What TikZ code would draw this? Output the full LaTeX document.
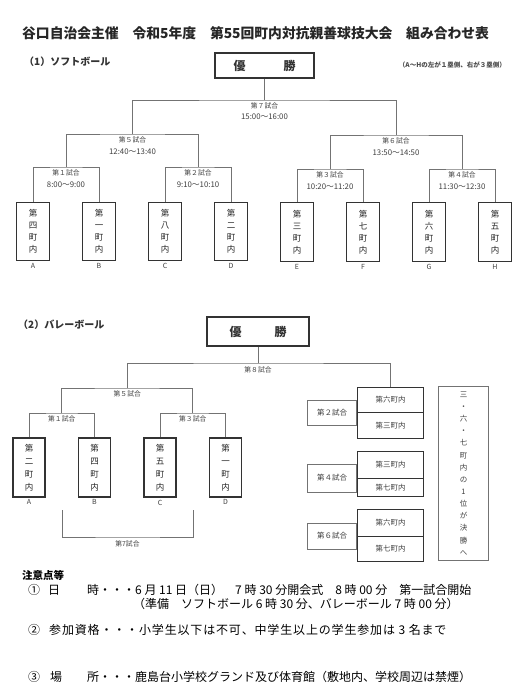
\documentclass[tikz,border=0pt]{standalone}
\usepackage{fontspec}
\setmainfont{Noto Sans CJK JP}
\begin{document}
\begin{tikzpicture}[x=1pt,y=-1pt,
  ln/.style={draw=black!55, line width=0.7pt},
  team/.style={draw=black!80, line width=1.3pt, minimum width=33pt, minimum height=58.5pt, inner sep=0pt, align=center, text=black!85, font=\fontsize{8.5}{12}\selectfont},
  vteam/.style={team, minimum width=32pt, minimum height=59pt, font=\fontsize{8.5}{13}\selectfont},
  win/.style={draw=black!80, line width=1.1pt, inner sep=0pt, text=black!80, font=\fontsize{12}{14}\selectfont\bfseries},
  lab/.style={inner sep=0pt, text=black!75, font=\fontsize{6.8}{8}\selectfont},
  tim/.style={inner sep=0pt, text=black!75, font=\fontsize{7.8}{9}\selectfont},
  letter/.style={inner sep=0pt, text=black!75, font=\fontsize{7}{8}\selectfont},
  half/.style={draw=black!80, line width=1.2pt, minimum width=66pt, inner sep=0pt, text=black!75, font=\fontsize{7.5}{9}\selectfont},
  gbox/.style={draw=black!55, line width=0.7pt, minimum width=49pt, inner sep=0pt, text=black!75, font=\fontsize{7.5}{9}\selectfont},
  note/.style={anchor=west, inner sep=0pt, text=black, font=\fontsize{12}{14}\selectfont}
]
\useasboundingbox[fill=white] (0,0) rectangle (520,699);

% ---------- title ----------
\node[anchor=west, inner sep=0pt, font=\fontsize{13.8}{16}\selectfont\bfseries, text=black!85] (title) at (22,33) {谷口自治会主催　令和5年度　第55回町内対抗親善球技大会　組み合わせ表};
\node[anchor=west, inner sep=0pt, font=\fontsize{10}{12}\selectfont\bfseries, text=black!80] (sec1) at (24,62) {（1）ソフトボール};
\node[anchor=east, inner sep=0pt, font=\fontsize{6.5}{8}\selectfont\bfseries, text=black!70] (note1) at (506,65) {（A～Hの左が１塁側、右が３塁側）};

% ---------- softball ----------
\node[win, minimum width=99pt, minimum height=25pt] (win1) at (264.5,65.5) {優\hspace{38pt}勝};

\node[team] (tA) at (33,231.5)  {第\\四\\町\\内};
\node[team] (tB) at (99,231.5)  {第\\一\\町\\内};
\node[team] (tC) at (165,231.5) {第\\八\\町\\内};
\node[team] (tD) at (231,231.5) {第\\二\\町\\内};
\node[team] (tE) at (297,232)   {第\\三\\町\\内};
\node[team] (tF) at (363,232)   {第\\七\\町\\内};
\node[team] (tG) at (429,232)   {第\\六\\町\\内};
\node[team] (tH) at (495,232)   {第\\五\\町\\内};

\foreach \n/\l in {tA/A,tB/B,tC/C,tD/D,tE/E,tF/F,tG/G,tH/H}
  \node[letter, anchor=north] (L\n) at ([yshift=-2pt]\n.south) {\l};

\coordinate (g1) at (66,167);
\coordinate (g2) at (198,167);
\coordinate (g3) at (330,169);
\coordinate (g4) at (462,169);
\coordinate (g5) at (132.5,134);
\coordinate (g6) at (396,135);
\coordinate (g7) at (264.5,100);

\draw[ln] (tA.north) |- (g1) -| (tB.north);
\draw[ln] (tC.north) |- (g2) -| (tD.north);
\draw[ln] (tE.north) |- (g3) -| (tF.north);
\draw[ln] (tG.north) |- (g4) -| (tH.north);
\draw[ln] (g1) |- (g5) -| (g2);
\draw[ln] (g3) |- (g6) -| (g4);
\draw[ln] (g5) |- (g7) -| (g6);
\draw[ln] (g7) -- (win1.south);

\node[lab] (l1) at (66,172.5) {第１試合};
\node[tim] (t1) at (66,184.5) {8:00～9:00};
\node[lab] (l2) at (198,172.5) {第２試合};
\node[tim] (t2) at (198,184.5) {9:10～10:10};
\node[lab] (l3) at (330,174.5) {第３試合};
\node[tim] (t3) at (330,186.5) {10:20～11:20};
\node[lab] (l4) at (462,174.5) {第４試合};
\node[tim] (t4) at (462,186.5) {11:30～12:30};
\node[lab] (l5) at (132.5,139.5) {第５試合};
\node[tim] (t5) at (132.5,152) {12:40～13:40};
\node[lab] (l6) at (396,141) {第６試合};
\node[tim] (t6) at (396,153) {13:50～14:50};
\node[lab] (l7) at (264.5,105.5) {第７試合};
\node[tim] (t7) at (264.5,117) {15:00～16:00};

% ---------- volleyball ----------
\node[anchor=west, inner sep=0pt, font=\fontsize{10}{12}\selectfont\bfseries, text=black!80] (sec2) at (18,325) {（2）バレーボール};
\node[win, minimum width=102pt, minimum height=29pt] (win2) at (258,331.5) {優\hspace{33pt}勝\hspace{5pt}};

\node[vteam] (vA) at (29,467.5)    {第\\二\\町\\内};
\node[vteam] (vB) at (94.5,467.5)  {第\\四\\町\\内};
\node[vteam] (vC) at (160,467.5)   {第\\五\\町\\内};
\node[vteam] (vD) at (225.5,467.5) {第\\一\\町\\内};
\foreach \n/\l in {vA/A,vB/B,vC/C,vD/D}
  \node[letter, anchor=north] (L\n) at ([yshift=-2pt]\n.south) {\l};

\coordinate (v1) at (61.75,413);
\coordinate (v3) at (192.75,413);
\coordinate (v5) at (127.25,388);
\coordinate (v8) at (258,363);

% right group 1
\node[gbox, minimum height=25pt, anchor=east] (k2) at (357,412.5) {第２試合};
\node[half, minimum height=25pt, anchor=north west] (p1) at (357,387) {第六町内};
\node[half, minimum height=26pt, anchor=north west] (p2) at (357,412) {第三町内};
% right group 2
\node[gbox, minimum height=28pt, anchor=east] (k4) at (357,478) {第４試合};
\node[half, minimum height=27pt, anchor=north west] (p3) at (357,451) {第三町内};
\node[half, minimum height=18pt, anchor=north west] (p4) at (357,478) {第七町内};
% right group 3
\node[gbox, minimum height=26pt, anchor=east] (k6) at (357,536) {第６試合};
\node[half, minimum height=27pt, anchor=north west] (p5) at (357,509) {第六町内};
\node[half, minimum height=25pt, anchor=north west] (p6) at (357,536) {第七町内};

\node[draw=black!55, line width=0.7pt, minimum width=50pt, minimum height=174pt, inner sep=0pt, align=center, text=black!75, font=\fontsize{7.5}{12.15}\selectfont] (fin) at (463.5,473.5) {三\\・\\六\\・\\七\\町\\内\\の\\1\\位\\が\\決\\勝\\へ};

\draw[ln] (vA.north) |- (v1) -| (vB.north);
\draw[ln] (vC.north) |- (v3) -| (vD.north);
\draw[ln] (v1) |- (v5) -| (v3);
\draw[ln] (v5) |- (v8) -| (p1.north);
\draw[ln] (v8) -- (win2.south);

\coordinate (b7L) at (62,510);
\coordinate (b7R) at (193,510);
\coordinate (v7) at (127.5,537);
\draw[ln] (b7L) |- (v7) -| (b7R);

\node[lab] (m1) at (61.75,419) {第１試合};
\node[lab] (m3) at (192.75,419) {第３試合};
\node[lab] (m5) at (127.25,394) {第５試合};
\node[lab] (m8) at (258,370) {第８試合};
\node[lab] (m7) at (127.5,544) {第7試合};

% ---------- notes ----------
\node[anchor=west, inner sep=0pt, font=\fontsize{10.5}{12}\selectfont\bfseries] (n0) at (22,575) {注意点等};
\node[note] (n1a) at (28,590) {①};
\node[note] (n1b) at (48,590) {日};
\node[note] (n1c) at (87,590) {時・・・6 月 11 日（日）　7 時 30 分開会式　8 時 00 分　第一試合開始};
\node[note] (n2) at (133,604) {（準備　ソフトボール 6 時 30 分、バレーボール 7 時 00 分）};
\node[note] (n3a) at (28,630) {②};
\node[note, font=\fontsize{12}{14}\selectfont\addfontfeature{LetterSpace=7}] (n3b) at (49,630) {参加資格・・・小学生以下は不可、中学生以上の学生参加は 3 名まで};
\node[note] (n4a) at (28,677) {③};
\node[note] (n4b) at (50,677) {場};
\node[note] (n4c) at (87,677) {所・・・鹿島台小学校グランド及び体育館（敷地内、学校周辺は禁煙）};
\end{tikzpicture}
\end{document}
